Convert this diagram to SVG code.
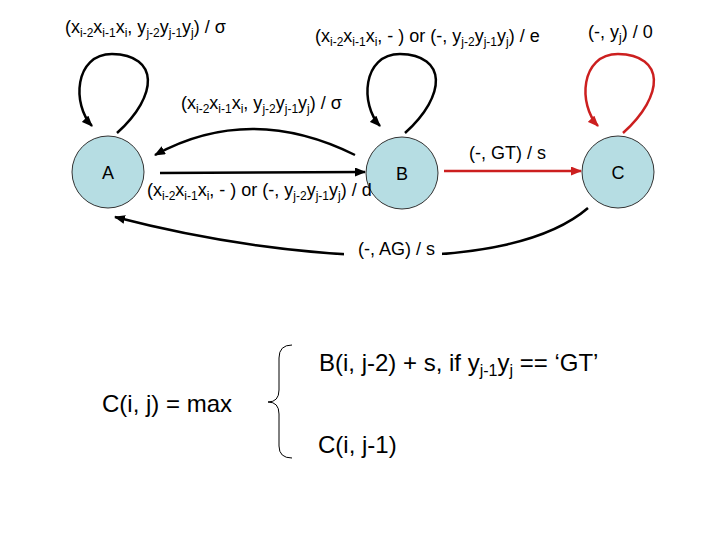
<svg xmlns="http://www.w3.org/2000/svg" width="720" height="540" viewBox="0 0 720 540">
<defs>
<style>
text{font-family:"Liberation Sans",Arial,sans-serif;fill:#000}
.lbl{font-size:18px}
.big{font-size:24px}
.sub{font-size:12px}
.sub2{font-size:16px}
.node circle{fill:#b6dde3;stroke:#333;stroke-width:1}
.blk{fill:none;stroke:#000;stroke-width:2.5}
.red{fill:none;stroke:#cc1f1f;stroke-width:2.5}
</style>
<marker id="ab" markerUnits="userSpaceOnUse" markerWidth="11" markerHeight="9" refX="10" refY="4.5" orient="auto"><path d="M0,0 L11,4.5 L0,9 z" fill="#000"/></marker>
<marker id="ar" markerUnits="userSpaceOnUse" markerWidth="11" markerHeight="9" refX="10" refY="4.5" orient="auto"><path d="M0,0 L11,4.5 L0,9 z" fill="#cc1f1f"/></marker>
</defs>
<rect width="720" height="540" fill="#fff"/>
<g id="connectors">
<path class="blk" d="M117,133 C159,95 159,55 112,54 C74,54 72,105 92,126" marker-end="url(#ab)"/>
<path class="blk" d="M405,133 C447,95 447,55 400,54 C362,54 360,105 380,126" marker-end="url(#ab)"/>
<path class="red" d="M623,133 C665,95 665,55 618,54 C580,54 578,105 598,126" marker-end="url(#ar)"/>
<path class="blk" d="M355,155 Q250,103 155,155" marker-end="url(#ab)"/>
<path class="blk" d="M160,173 L365,172" marker-end="url(#ab)"/>
<path class="red" d="M444,171 L581,171" marker-end="url(#ar)"/>
<path class="blk" d="M588,208 C510,275 300,265 115,217" marker-end="url(#ab)"/>
<rect x="344" y="240" width="98" height="23" fill="#fff"/>
</g>
<g id="A" class="node"><circle cx="108" cy="172" r="36"/><text class="lbl" x="108" y="179" text-anchor="middle">A</text></g>
<g id="B" class="node"><circle cx="402" cy="173" r="36"/><text class="lbl" x="402" y="180" text-anchor="middle">B</text></g>
<g id="C" class="node"><circle cx="618" cy="172" r="36"/><text class="lbl" x="618" y="179" text-anchor="middle">C</text></g>
<g id="labels">
<text class="lbl" x="65" y="33">(x<tspan class="sub" dy="4">i-2</tspan><tspan dy="-4">x</tspan><tspan class="sub" dy="4">i-1</tspan><tspan dy="-4">x</tspan><tspan class="sub" dy="4">i</tspan><tspan dy="-4">, y</tspan><tspan class="sub" dy="4">j-2</tspan><tspan dy="-4">y</tspan><tspan class="sub" dy="4">j-1</tspan><tspan dy="-4">y</tspan><tspan class="sub" dy="4">j</tspan><tspan dy="-4">) / σ</tspan></text>
<text class="lbl" x="315" y="42">(x<tspan class="sub" dy="4">i-2</tspan><tspan dy="-4">x</tspan><tspan class="sub" dy="4">i-1</tspan><tspan dy="-4">x</tspan><tspan class="sub" dy="4">i</tspan><tspan dy="-4">, - ) or (-, y</tspan><tspan class="sub" dy="4">j-2</tspan><tspan dy="-4">y</tspan><tspan class="sub" dy="4">j-1</tspan><tspan dy="-4">y</tspan><tspan class="sub" dy="4">j</tspan><tspan dy="-4">) / e</tspan></text>
<text class="lbl" x="588" y="38">(-, y<tspan class="sub" dy="4">j</tspan><tspan dy="-4">) / 0</tspan></text>
<text class="lbl" x="181" y="109">(x<tspan class="sub" dy="4">i-2</tspan><tspan dy="-4">x</tspan><tspan class="sub" dy="4">i-1</tspan><tspan dy="-4">x</tspan><tspan class="sub" dy="4">i</tspan><tspan dy="-4">, y</tspan><tspan class="sub" dy="4">j-2</tspan><tspan dy="-4">y</tspan><tspan class="sub" dy="4">j-1</tspan><tspan dy="-4">y</tspan><tspan class="sub" dy="4">j</tspan><tspan dy="-4">) / σ</tspan></text>
<text class="lbl" x="147" y="196">(x<tspan class="sub" dy="4">i-2</tspan><tspan dy="-4">x</tspan><tspan class="sub" dy="4">i-1</tspan><tspan dy="-4">x</tspan><tspan class="sub" dy="4">i</tspan><tspan dy="-4">, - ) or (-, y</tspan><tspan class="sub" dy="4">j-2</tspan><tspan dy="-4">y</tspan><tspan class="sub" dy="4">j-1</tspan><tspan dy="-4">y</tspan><tspan class="sub" dy="4">j</tspan><tspan dy="-4">) / d</tspan></text>
<text class="lbl" x="469" y="159">(-, GT) / s</text>
<text class="lbl" x="358" y="255">(-, AG) / s</text>
</g>
<g id="formula">
<text class="big" x="102" y="412">C(i, j) = max</text>
<path d="M292,345 Q279,345 279,358 L279,390 Q279,402 268,402 Q279,402 279,414 L279,446 Q279,458 292,458" fill="none" stroke="#000" stroke-width="1"/>
<text class="big" x="319" y="371">B(i, j-2) + s, if y<tspan class="sub2" dy="5">j-1</tspan><tspan dy="-5">y</tspan><tspan class="sub2" dy="5">j</tspan><tspan dy="-5"> == ‘GT’</tspan></text>
<text class="big" x="318" y="453">C(i, j-1)</text>
</g>
</svg>
